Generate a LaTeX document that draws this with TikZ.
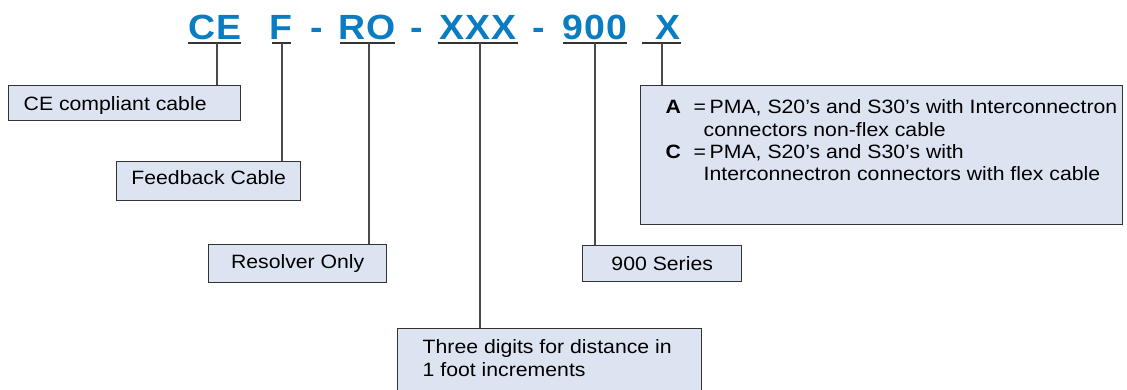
\documentclass[tikz,border=0pt]{standalone}
\usepackage{fontspec}
\setmainfont{Liberation Sans}[FakeStretch=1.1]
\newfontfamily\titlefont{Liberation Sans}[FakeStretch=1.07,LetterSpace=3]
\definecolor{boxfill}{HTML}{DCE3F1}
\definecolor{boxline}{HTML}{333333}
\definecolor{connclr}{HTML}{4A4A4A}
\definecolor{codeblue}{HTML}{0A7CC1}
\newcommand\inbox[5]{\parbox[c][#2][t]{#1}{#4\rule{0pt}{#3}#5}}
\tikzset{
  codepart/.style={font=\titlefont\bfseries\fontsize{35pt}{40pt}\selectfont, text=codeblue, anchor=base, inner sep=0pt},
  infobox/.style={draw=boxline, line width=1.4pt, fill=boxfill, inner sep=0pt, anchor=north west,
    font=\fontsize{19.3pt}{22.4pt}\selectfont, text=black},
  connector/.style={draw=connclr, line width=1.8pt},
  uline/.style={draw=boxline, line width=1.3pt},
}
\begin{document}
\begin{tikzpicture}[x=1pt,y=-1pt]
\useasboundingbox (0,0) rectangle (1127,389);
\clip (0,0) rectangle (1127,389);

% code parts
\node[codepart] (pCE)  at (215,39)   {CE};
\node[codepart] (pF)   at (281,39)   {F};
\node[codepart] (d1)   at (316.5,39) {-};
\node[codepart] (pRO)  at (367.5,39) {RO};
\node[codepart] (d2)   at (417,39)   {-};
\node[codepart] (pXXX) at (478,39)   {XXX};
\node[codepart] (d3)   at (538.5,39) {-};
\node[codepart] (p900) at (595,39)   {900};
\node[codepart] (pX)   at (668,39)   {X};

% underlines
\draw[uline] (188,43) -- (241,43);
\draw[uline] (272,43) -- (291,43);
\draw[uline] (340,43) -- (395,43);
\draw[uline] (438,43) -- (518,43);
\draw[uline] (563,43) -- (627,43);
\draw[uline] (642,43) -- (681,43);

\coordinate (kCE)  at (217,43);
\coordinate (kF)   at (282,43);
\coordinate (kRO)  at (369,43);
\coordinate (kXXX) at (480,43);
\coordinate (k900) at (595,43);
\coordinate (kX)   at (662,43);

% boxes
\node[infobox] (ce) at (8,85)
  {\inbox{232pt}{35pt}{25pt}{\raggedright\leftskip=15pt}{CE compliant cable}};
\node[infobox] (fb) at (116,161)
  {\inbox{184pt}{39pt}{23pt}{\centering}{Feedback Cable}};
\node[infobox] (ro) at (208,244)
  {\inbox{178pt}{38pt}{24pt}{\centering}{Resolver Only}};
\node[infobox] (ser) at (582,245)
  {\inbox{159pt}{36pt}{25pt}{\centering}{900 Series}};
\node[infobox] (dist) at (397,328)
  {\inbox{304pt}{80pt}{25pt}{\raggedright\leftskip=25pt}{\mbox{Three digits for distance in}\\\mbox{1 foot increments}}};
\node[infobox] (opt) at (640,85)
  {\inbox{482pt}{139pt}{28pt}{\raggedright\leftskip=25pt}{%
    \mbox{\makebox[28pt][l]{\textbf{A}}\makebox[16pt][l]{=}PMA, S20’s and S30’s with Interconnectron}\\
    \mbox{\hspace*{38pt}connectors non-flex cable}\\
    \mbox{\makebox[28pt][l]{\textbf{C}}\makebox[16pt][l]{=}PMA, S20’s and S30’s with}\\
    \mbox{\hspace*{38pt}Interconnectron connectors with flex cable}}};

% connectors
\draw[connector] (kCE)  -- (kCE  |- ce.north);
\draw[connector] (kF)   -- (kF   |- fb.north);
\draw[connector] (kRO)  -- (kRO  |- ro.north);
\draw[connector] (kXXX) -- (kXXX |- dist.north);
\draw[connector] (k900) -- (k900 |- ser.north);
\draw[connector] (kX)   -- (kX   |- opt.north);
\end{tikzpicture}
\end{document}
